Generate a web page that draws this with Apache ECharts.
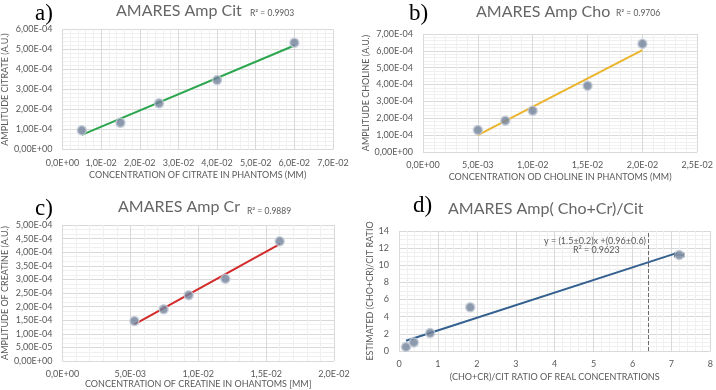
<!DOCTYPE html>
<html>
<head>
<meta charset="utf-8">
<script src="https://cdn.jsdelivr.net/npm/echarts@6/dist/echarts.min.js"></script>
<style>
  html, body { margin: 0; padding: 0; background: #fff; }
  #main { width: 716px; height: 390px; }
</style>
</head>
<body>
<div id="main"></div>
<script>
// a) citrate
var citX = [0.005, 0.015, 0.025, 0.04, 0.06];
var citY = [0.96e-4, 1.34e-4, 2.31e-4, 3.47e-4, 5.34e-4];
var citFitX = [0.005, 0.06];
var citFitY = [0.73e-4, 5.2e-4];
// b) choline
var choX = [0.005, 0.0075, 0.01, 0.015, 0.02];
var choY = [1.3e-4, 1.86e-4, 2.45e-4, 3.93e-4, 6.42e-4];
var choFitX = [0.005, 0.02];
var choFitY = [1.0e-4, 6.05e-4];
// c) creatine
var crX = [0.0053, 0.00745, 0.0093, 0.012, 0.016];
var crY = [1.47e-4, 1.9e-4, 2.42e-4, 3.02e-4, 4.4e-4];
var crFitX = [0.0053, 0.016];
var crFitY = [1.35e-4, 4.3e-4];
// d) ratio
var ratioX = [0.18, 0.38, 0.8, 1.83, 7.2];
var ratioY = [0.48, 1.0, 2.1, 5.1, 11.2];
var ratioFitX = [0.18, 7.15];
var ratioFitY = [1.2, 11.45];
var ratioErr = [7.08, 7.32];
var cutX = 6.4;

var grey = '#595959';

function sci(d) {
  return function(v) {
    var s = Number(v).toExponential(d).split('e');
    var e = parseInt(s[1], 10);
    var a = Math.abs(e);
    return s[0].replace('.', ',') + 'E' + (e < 0 ? '-' : '+') + (a < 10 ? '0' : '') + a;
  };
}
function pairs(xs, ys) {
  return xs.map(function(x, i) { return [x, ys[i]]; });
}

function makeX(idx, max, interval, minorN, fmt, name, nameGap) {
  return {
    gridIndex: idx, type: 'value', min: 0, max: max, interval: interval,
    name: name, nameLocation: 'middle', nameGap: nameGap,
    nameTextStyle: { fontSize: 9, color: grey, fontFamily: 'Lato' },
    axisLine: { show: false }, axisTick: { show: false },
    axisLabel: { formatter: fmt, fontSize: 9, color: grey, fontFamily: 'Lato', margin: 9 },
    splitLine: { show: true, lineStyle: { color: '#d9d9d9', width: 1 } },
    minorTick: { show: false, splitNumber: minorN },
    minorSplitLine: { show: true, lineStyle: { color: '#f0f0f0', width: 1 } }
  };
}
function makeY(idx, max, interval, minorN, fmt, name, nameGap) {
  var o = makeX(idx, max, interval, minorN, fmt, name, nameGap);
  o.axisLabel.margin = 10;
  return o;
}

var markerStyle = { color: '#72829a', borderColor: '#c3cad6', borderWidth: 1.5 };

function scatter(idx, xs, ys) {
  return {
    type: 'scatter', xAxisIndex: idx, yAxisIndex: idx, symbolSize: 9,
    itemStyle: markerStyle, data: pairs(xs, ys), z: 5
  };
}
function fit(idx, xs, ys, color) {
  return {
    type: 'line', xAxisIndex: idx, yAxisIndex: idx, symbol: 'none',
    lineStyle: { color: color, width: 2 }, data: pairs(xs, ys), z: 4
  };
}

function txt(x, y, text, size, family, color) {
  return {
    type: 'text', left: x, top: y, z: 100,
    style: { text: text, fontSize: size, fontFamily: family, fill: color, fontWeight: 'normal' }
  };
}

var chart = echarts.init(document.getElementById('main'));
var ratioFit = fit(3, ratioFitX, ratioFitY, '#34608f');
ratioFit.markLine = {
  silent: true, symbol: 'none', label: { show: false },
  lineStyle: { color: '#6b6b6b', type: 'dashed', width: 1 },
  data: [{ xAxis: cutX }]
};

var titleColor = '#666666';

chart.setOption({
  animation: false,
  grid: [
    { left: 60, top: 29.5, width: 273, height: 120 },
    { left: 423, top: 34, width: 276, height: 118 },
    { left: 59, top: 225, width: 275, height: 136 },
    { left: 399, top: 231, width: 313, height: 120 }
  ],
  xAxis: [
    makeX(0, 0.07, 0.01, 5, sci(1), 'CONCENTRATION OF CITRATE IN PHANTOMS (MM)', 21),
    makeX(1, 0.025, 0.005, 5, sci(1), 'CONCENTRATION OD CHOLINE IN PHANTOMS (MM)', 21),
    makeX(2, 0.02, 0.005, 5, sci(1), 'CONCENTRATION OF CREATINE IN OHANTOMS [MM]', 17),
    makeX(3, 8, 1, 5, function(v) { return v; }, '(CHO+CR)/CIT RATIO OF REAL CONCENTRATIONS', 22)
  ],
  yAxis: [
    makeY(0, 6e-4, 1e-4, 5, sci(2), 'AMPLITUDE CITRATE (A.U.)', 50),
    makeY(1, 7e-4, 1e-4, 5, sci(2), 'AMPLITUDE CHOLINE (A.U.)', 48),
    makeY(2, 5e-4, 5e-5, 3, sci(2), 'AMPLITUDE OF CREATINE (A.U.)', 50),
    makeY(3, 14, 2, 4, function(v) { return v; }, 'ESTIMATED (CHO+CR)/CIT RATIO', 24)
  ],
  series: [
    fit(0, citFitX, citFitY, '#2ca64e'),
    scatter(0, citX, citY),
    fit(1, choFitX, choFitY, '#ebb52d'),
    scatter(1, choX, choY),
    fit(2, crFitX, crFitY, '#d32a2a'),
    scatter(2, crX, crY),
    ratioFit,
    scatter(3, ratioX, ratioY),
    {
      type: 'custom', xAxisIndex: 3, yAxisIndex: 3, z: 6,
      data: [[ratioX[4], ratioY[4], ratioErr[0], ratioErr[1]]],
      renderItem: function(params, api) {
        var y = api.value(1);
        var p0 = api.coord([api.value(2), y]);
        var p1 = api.coord([api.value(3), y]);
        var st = { stroke: '#6d7e95', lineWidth: 1 };
        return {
          type: 'group', children: [
            { type: 'line', shape: { x1: p0[0], y1: p0[1], x2: p1[0], y2: p1[1] }, style: st },
            { type: 'line', shape: { x1: p0[0], y1: p0[1] - 2.5, x2: p0[0], y2: p0[1] + 2.5 }, style: st },
            { type: 'line', shape: { x1: p1[0], y1: p1[1] - 2.5, x2: p1[0], y2: p1[1] + 2.5 }, style: st }
          ]
        };
      }
    }
  ],
  graphic: [
    txt(35, 2, 'a)', 23, 'Liberation Serif', '#000'),
    txt(116, 3, 'AMARES Amp Cit', 16, 'Lato', titleColor),
    txt(250, 9, 'R² = 0.9903', 8.5, 'Lato', grey),
    txt(409, 2, 'b)', 23, 'Liberation Serif', '#000'),
    txt(476, 4, 'AMARES Amp Cho', 16, 'Lato', titleColor),
    txt(616, 9, 'R² = 0.9706', 8.5, 'Lato', grey),
    txt(35, 197, 'c)', 23, 'Liberation Serif', '#000'),
    txt(118, 199, 'AMARES Amp Cr', 16, 'Lato', titleColor),
    txt(247, 207, 'R² = 0.9889', 8.5, 'Lato', grey),
    txt(413, 194, 'd)', 23, 'Liberation Serif', '#000'),
    txt(448, 201, 'AMARES Amp( Cho+Cr)/Cit', 16, 'Lato', titleColor),
    txt(544, 237, 'y = (1.5±0.2)x +(0.96±0.6)', 9, 'Lato', grey),
    txt(573, 246, 'R² = 0.9623', 9, 'Lato', grey)
  ]
});
</script>
</body>
</html>
